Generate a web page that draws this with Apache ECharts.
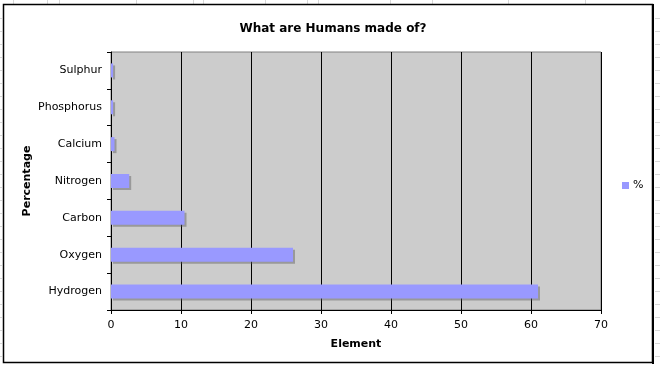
<!DOCTYPE html>
<html>
<head>
<meta charset="utf-8">
<script src="https://cdn.jsdelivr.net/npm/echarts@6/dist/echarts.min.js"></script>
<style>
html,body{margin:0;padding:0;background:#fff;}
#chart{width:660px;height:365px;}
</style>
</head>
<body>
<div id="chart"></div>
<script>
var categories = ['Hydrogen', 'Oxygen', 'Carbon', 'Nitrogen', 'Calcium', 'Phosphorus', 'Sulphur'];
var values = [61, 26, 10.5, 2.6, 0.5, 0.3, 0.3];
var seriesName = '%';
var titleText = 'What are Humans made of?';
var xTitle = 'Element';
var yTitle = 'Percentage';

var FONT = 'DejaVu Sans';
var chart = echarts.init(document.getElementById('chart'), null, {renderer: 'canvas'});

// faint spreadsheet cell lines around the chart (decoration)
var deco = [];
var topXs = [13, 47, 59, 136, 193, 203, 265, 307, 318, 390, 432, 508, 585];
topXs.forEach(function (x) {
  deco.push({type: 'line', shape: {x1: x + 0.5, y1: 0, x2: x + 0.5, y2: 4}, style: {stroke: '#d8d8d8', lineWidth: 1}, z: 0});
});
for (var y = 18; y < 365; y += 13) {
  deco.push({type: 'line', shape: {x1: 655, y1: y + 0.5, x2: 660, y2: y + 0.5}, style: {stroke: '#d8d8d8', lineWidth: 1}, z: 0});
  deco.push({type: 'line', shape: {x1: 0, y1: y + 0.5, x2: 2, y2: y + 0.5}, style: {stroke: '#d8d8d8', lineWidth: 1}, z: 0});
}
deco.push({type: 'rect', shape: {x: 3.5, y: 4.5, width: 649, height: 358}, style: {fill: null, stroke: '#000', lineWidth: 1.5}, z: 10});
deco.push({type: 'line', shape: {x1: 653, y1: 4, x2: 653, y2: 364}, style: {stroke: '#000', lineWidth: 2}, z: 10});

chart.setOption({
  backgroundColor: '#fff',
  animation: false,
  textStyle: {fontFamily: FONT},
  title: {
    text: titleText,
    left: 328,
    textAlign: 'center',
    top: 18,
    textStyle: {fontFamily: FONT, fontSize: 12, fontWeight: 'bold', color: '#000'}
  },
  legend: {
    data: [seriesName],
    left: 617,
    top: 175,
    itemWidth: 7,
    itemHeight: 7,
    itemGap: 4,
    icon: 'rect',
    textStyle: {fontFamily: FONT, fontSize: 11, color: '#000', padding: [0, 0, 0, -1]}
  },
  grid: {
    left: 111, right: 59, top: 52, bottom: 55,
    show: true,
    backgroundColor: '#cccccc',
    borderColor: '#808080',
    borderWidth: 1
  },
  xAxis: {
    type: 'value',
    min: 0, max: 70, interval: 10,
    name: xTitle,
    nameLocation: 'middle',
    nameGap: 29,
    nameMoveOverlap: false,
    nameTextStyle: {fontFamily: FONT, fontSize: 11, fontWeight: 'bold', color: '#000'},
    axisLine: {show: true, lineStyle: {color: '#000', width: 1}},
    axisTick: {show: true, length: 4, lineStyle: {color: '#000'}},
    axisLabel: {fontFamily: FONT, fontSize: 11, color: '#000', margin: 10},
    splitLine: {show: true, lineStyle: {color: '#000', width: 1}}
  },
  yAxis: {
    type: 'category',
    data: categories,
    name: yTitle,
    nameLocation: 'middle',
    nameGap: 78,
    nameRotate: 90,
    nameMoveOverlap: false,
    nameTextStyle: {fontFamily: FONT, fontSize: 11, fontWeight: 'bold', color: '#000'},
    axisLine: {show: true, lineStyle: {color: '#000', width: 1}},
    axisTick: {show: true, length: 4, lineStyle: {color: '#000'}},
    axisLabel: {fontFamily: FONT, fontSize: 11, color: '#000', margin: 9},
    splitLine: {show: false}
  },
  series: [{
    name: seriesName,
    type: 'bar',
    data: values,
    barWidth: 14,
    itemStyle: {
      color: '#9999ff',
      shadowColor: 'rgba(90,90,90,0.45)',
      shadowOffsetX: 2,
      shadowOffsetY: 2,
      shadowBlur: 0
    },
    z: 3
  }],
  graphic: deco
});
</script>
</body>
</html>
